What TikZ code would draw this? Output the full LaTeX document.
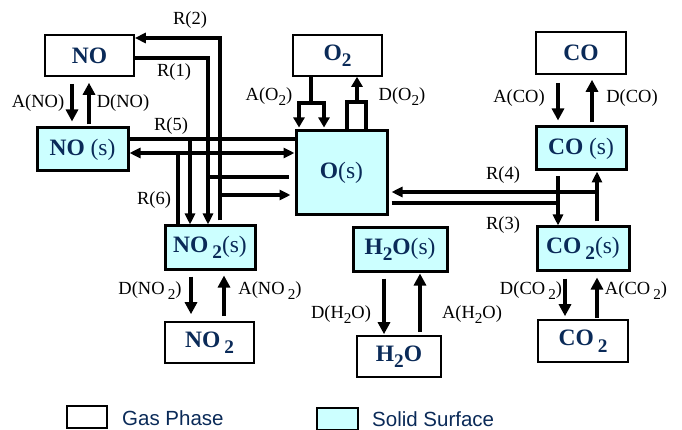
\documentclass[tikz,border=0pt]{standalone}
\usepackage{fontspec}
\setmainfont{Liberation Serif}
\setsansfont{Liberation Sans}
\usetikzlibrary{arrows.meta}
\definecolor{navy}{RGB}{10,42,88}
\definecolor{surf}{RGB}{204,255,255}
\newcommand\dn[1]{\raisebox{-0.6ex}{\scalebox{0.82}{#1}}}
\begin{document}
\begin{tikzpicture}[x=1pt,y=-1pt,
 gasbox/.style={draw=black,line width=1.6pt,fill=white,inner sep=0pt,text=navy,font=\fontsize{23.5}{25}\selectfont\bfseries},
 surfbox/.style={gasbox,line width=3pt,fill=surf},
 lab/.style={font=\fontsize{18.5}{20}\selectfont,inner sep=0pt},
 adarr/.style={line width=4.6pt,-{Triangle[length=12pt,width=12pt]}},
 forkline/.style={line width=3.8pt},
 forkarr/.style={forkline,-{Triangle[length=10pt,width=11pt]}},
 rline/.style={line width=3.5pt},
 rarr/.style={rline,-{Triangle[length=11pt,width=10pt]}},
 rdbl/.style={rline,{Triangle[length=11pt,width=10pt]}-{Triangle[length=11pt,width=10pt]}},
 legtext/.style={anchor=west,inner sep=0pt,text=navy,font=\sffamily\fontsize{20.5}{22}\selectfont},
 ]
\useasboundingbox (0,0) rectangle (682,430);

% boxes
\node[gasbox,minimum width=89pt,minimum height=41pt] (NO) at (89.5,55.5) {NO};
\node[surfbox,minimum width=91pt,minimum height=43pt] (NOs) at (82.5,149.5) {NO \mdseries(s)};
\node[gasbox,minimum width=89pt,minimum height=41pt] (O2) at (337.5,55.5) {O\dn{2}};
\node[surfbox,minimum width=91pt,minimum height=84pt] (Os) at (341.5,173) {O\mdseries(s)};
\node[gasbox,minimum width=90pt,minimum height=42pt] (CO) at (581,53) {CO};
\node[surfbox,minimum width=90pt,minimum height=43pt] (COs) at (581,148.5) {CO \mdseries(s)};
\node[surfbox,minimum width=90pt,minimum height=43pt] (NO2s) at (210,247.5) {NO\,\dn{2}\mdseries(s)};
\node[gasbox,minimum width=89pt,minimum height=41pt] (NO2) at (209.5,342.5) {NO\,\dn{2}};
\node[surfbox,minimum width=94pt,minimum height=43pt] (H2Os) at (400,249.5) {H\dn{2}O\mdseries(s)};
\node[gasbox,minimum width=84pt,minimum height=41pt] (H2O) at (399,356.5) {H\dn{2}O};
\node[surfbox,minimum width=92pt,minimum height=43pt] (CO2s) at (583,248.5) {CO\,\dn{2}\mdseries(s)};
\node[gasbox,minimum width=90pt,minimum height=42pt] (CO2) at (583,341) {CO\,\dn{2}};

% adsorption / desorption
\draw[adarr,shorten <=7pt,shorten >=5pt] (NO.south -| 72,0) -- (NOs.north -| 72,0);
\draw[adarr,shorten <=2pt,shorten >=6pt] (NOs.north -| 89,0) -- (NO.south -| 89,0);
\draw[adarr,shorten <=8pt,shorten >=5pt] (CO.south -| 558,0) -- (COs.north -| 558,0);
\draw[adarr,shorten <=3pt,shorten >=5pt] (COs.north -| 592,0) -- (CO.south -| 592,0);
\draw[adarr,shorten <=6pt,shorten >=7pt] (NO2s.south -| 191,0) -- (NO2.north -| 191,0);
\draw[adarr,shorten <=5pt,shorten >=5pt] (NO2.north -| 224,0) -- (NO2s.south -| 224,0);
\draw[adarr,shorten <=6pt,shorten >=1pt] (H2Os.south -| 384,0) -- (H2O.north -| 384,0);
\draw[adarr,shorten <=3pt,shorten >=1pt] (H2O.north -| 420,0) -- (H2Os.south -| 420,0);
\draw[adarr,shorten <=7pt,shorten >=3pt] (CO2s.south -| 565,0) -- (CO2.north -| 565,0);
\draw[adarr,shorten <=1pt,shorten >=6pt] (CO2.north -| 597,0) -- (CO2s.south -| 597,0);

% O2 forks
\coordinate (fa) at (311,103);
\draw[forkline] (O2.south -| fa) -- (fa);
\draw[forkarr,shorten >=2pt] (fa) -| (Os.north -| 299,0);
\draw[forkarr,shorten >=2pt] (fa) -| (Os.north -| 324,0);
\coordinate (fd) at (357,102);
\draw[forkline] (Os.north -| 347,0) |- (366,102) -- (Os.north -| 366,0);
\draw[forkarr] (fd) -- (O2.south -| fd);

% R(2)
\coordinate (r2b) at (220,195);
\draw[rarr,shorten <=4pt] (NO2s.north -| r2b) |- (NO.east |- 0,38);
\draw[rarr,shorten >=4pt] (r2b) -- (Os.west |- r2b);
% R(1)
\coordinate (r1b) at (208,177);
\draw[rarr] (NO.east |- 0,58) -| (NO2s.north -| r1b);
\draw[rline,shorten <=6pt] (Os.west |- r1b) -- (r1b);
% R(5)
\coordinate (r5b) at (190,139);
\draw[rline] (NOs.east |- r5b) -- (Os.west |- r5b);
\draw[rarr] (r5b) -- (NO2s.north -| r5b);
% R(6)
\coordinate (r6b) at (178,153);
\draw[rdbl] (NOs.east |- r6b) -- (Os.west |- r6b);
\draw[rline] (r6b) -- (NO2s.north -| r6b);
% R(3)
\coordinate (r3b) at (558,203);
\draw[rline,shorten <=3pt] (Os.east |- r3b) -- (r3b);
\draw[rarr,line width=4pt,shorten <=5pt] (COs.south -| r3b) -- (CO2s.north -| r3b);
% R(4)
\coordinate (r4b) at (597,192);
\draw[rarr,line width=4pt,shorten <=4pt] (CO2s.north -| r4b) -- (COs.south -| r4b);
\draw[rarr,shorten >=3pt] (r4b) -- (Os.east |- r4b);

% labels
\node[lab] (lANO) at (38,103) {A(NO)};
\node[lab] (lDNO) at (123,103) {D(NO)};
\node[lab] (lAO2) at (269,97) {A(O\dn{2})};
\node[lab] (lDO2) at (402,97) {D(O\dn{2})};
\node[lab] (lACO) at (519,98) {A(CO)};
\node[lab] (lDCO) at (632,98) {D(CO)};
\node[lab] (lR2) at (190,20) {R(2)};
\node[lab] (lR1) at (174,72) {R(1)};
\node[lab] (lR5) at (171,126) {R(5)};
\node[lab] (lR6) at (154,200) {R(6)};
\node[lab] (lR4) at (503,175) {R(4)};
\node[lab] (lR3) at (503,225) {R(3)};
\node[lab] (lDNO2) at (150,291) {D(NO\,\dn{2})};
\node[lab] (lANO2) at (270,291) {A(NO\,\dn{2})};
\node[lab] (lDH2O) at (341,315) {D(H\dn{2}O)};
\node[lab] (lAH2O) at (472,315) {A(H\dn{2}O)};
\node[lab] (lDCO2) at (531,291) {D(CO\,\dn{2})};
\node[lab] (lACO2) at (636,291) {A(CO\,\dn{2})};

% legend
\node[draw=black,line width=1.4pt,fill=white,minimum width=40pt,minimum height=22pt,inner sep=0pt] (lg) at (87,417) {};
\node[legtext] (lgt) at (122,418) {Gas Phase};
\node[draw=black,line width=2.6pt,fill=surf,minimum width=41pt,minimum height=22pt,inner sep=0pt] (ls) at (337.5,419) {};
\node[legtext] (lst) at (372,419) {Solid Surface};
\end{tikzpicture}
\end{document}
